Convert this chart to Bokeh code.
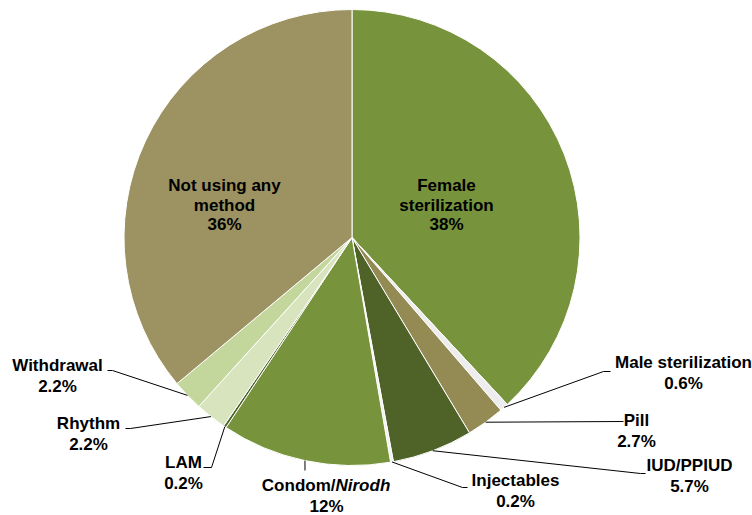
import math
from bokeh.plotting import figure
from bokeh.models import Range1d
from bokeh.embed import file_html
from bokeh.resources import INLINE
from bokeh.core.properties import value

# ---- data ----
methods = ["Female sterilization", "Male sterilization", "Pill", "IUD/PPIUD",
           "Injectables", "Condom/Nirodh", "LAM", "Rhythm", "Withdrawal",
           "Not using any method"]
shares = [38, 0.6, 2.7, 5.7, 0.2, 12, 0.2, 2.2, 2.2, 36]
share_labels = ["38%", "0.6%", "2.7%", "5.7%", "0.2%", "12%", "0.2%", "2.2%", "2.2%", "36%"]

# ---- styles ----
colors = ["#77933C", "#EDEDED", "#948A54", "#4F6228", "#F2F2F2",
          "#77933C", "#4F6228", "#D7E4BD", "#C3D69B", "#9C9262"]

W, H = 752, 515
def Y(img_y):
    return H - img_y

cx, cy_img, R = 351.5, 237, 228
cy = Y(cy_img)

p = figure(width=W, height=H, output_backend="svg", toolbar_location=None,
           x_range=Range1d(0, W), y_range=Range1d(0, H),
           min_border=0)
p.axis.visible = False
p.grid.visible = False
p.outline_line_color = None
p.background_fill_color = "white"

total = sum(shares)
cum = 0.0
starts, ends, mids = [], [], []
for v in shares:
    a0 = math.pi / 2 - 2 * math.pi * (cum + v) / total
    a1 = math.pi / 2 - 2 * math.pi * cum / total
    starts.append(a0)
    ends.append(a1)
    mids.append((a0 + a1) / 2)
    cum += v

p.wedge(x=[cx] * len(shares), y=[cy] * len(shares), radius=R,
        start_angle=starts, end_angle=ends, fill_color=colors,
        line_color="white", line_width=1)

FONT = value("Liberation Sans")
FS = "17px"

def txt(x, y, s, align="center", style="bold"):
    p.text(x=[x], y=[Y(y)], text=[s], text_font=FONT, text_font_size=FS,
           text_font_style=style, text_align=align, text_baseline="middle",
           text_color="black")

# inside labels (image coords of line centres)
inside = {
    0: (446, [185, 205, 224], ["Female", "sterilization", share_labels[0]]),
    9: (224, [185, 205, 224], ["Not using any", "method", share_labels[9]]),
}
for i, (x, ys, lines) in inside.items():
    for yy, s in zip(ys, lines):
        txt(x, yy, s)

# outside labels: text x, first line y, leader polyline points after the pie edge
outside = {
    1: (683, 362, [(603, 371), (610, 371)]),
    2: (636, 420, [(623, 421)]),
    3: (689, 465, [(640, 473), (645, 473)]),
    4: (515, 480, [(462, 487), (467, 487)]),
    6: (183, 462, [(211, 467), (203, 467)]),
    7: (88, 423, [(130, 428), (125, 428)]),
    8: (57, 365, [(112, 370), (107, 370)]),
}
for i, (x, y0, pts) in outside.items():
    txt(x, y0, methods[i])
    txt(x, y0 + 20.5, share_labels[i])
    a = mids[i]
    sx, sy = cx + R * math.cos(a), cy + R * math.sin(a)
    xs = [sx] + [q[0] for q in pts]
    ys = [sy] + [Y(q[1]) for q in pts]
    p.line(xs, ys, line_color="black", line_width=1)

# Condom/Nirodh with italic part
txt(335, 485, "Condom/", align="right")
txt(335, 485, "Nirodh", align="left", style="bold italic")
txt(326, 505.5, share_labels[5])
a = mids[5]
p.line([cx + R * math.cos(a)] * 2, [cy + R * math.sin(a), Y(470)],
       line_color="black", line_width=1)

open("out.html", "w").write(file_html(p, INLINE))
